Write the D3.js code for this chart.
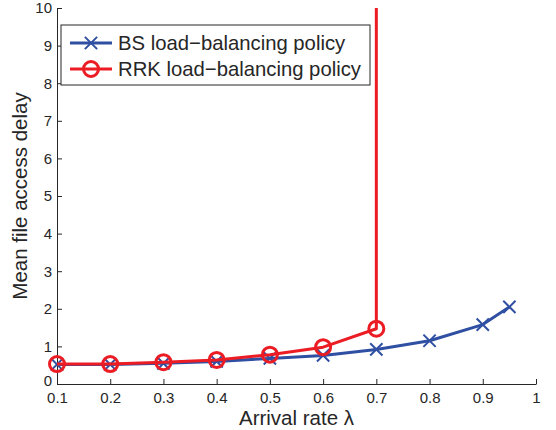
<!DOCTYPE html>
<html>
<head>
<meta charset="utf-8">
<script src="https://cdn.jsdelivr.net/npm/d3@7"></script>
<style>
  body { margin: 0; background: #fff; }
  svg { display: block; font-family: "Liberation Sans", Arial, sans-serif; }
</style>
</head>
<body>
<div id="chart"></div>
<script>
// arrival rates and mean delays
const bsRates = [0.1, 0.2, 0.3, 0.4, 0.5, 0.6, 0.7, 0.8, 0.9, 0.95];
const bsDelay = [0.52, 0.52, 0.55, 0.60, 0.68, 0.76, 0.92, 1.15, 1.58, 2.05];
const rrkRates = [0.1, 0.2, 0.3, 0.4, 0.5, 0.6, 0.7, 0.7];
const rrkDelay = [0.53, 0.53, 0.58, 0.64, 0.78, 0.98, 1.47, 40]; // last point blows up off the chart
const xTicks = [0.1, 0.2, 0.3, 0.4, 0.5, 0.6, 0.7, 0.8, 0.9, 1];
const yTicks = [0, 1, 2, 3, 4, 5, 6, 7, 8, 9, 10];
const seriesNames = ['BS load\u2212balancing policy', 'RRK load\u2212balancing policy'];

const W = 556, H = 430;
const margin = { top: 8, right: 20, bottom: 46, left: 57 };
const width = W - margin.left - margin.right;
const height = H - margin.top - margin.bottom;
const blue = '#2f4fa2';
const red = '#ec1c24';
const ink = '#262626';

const svg = d3.select('#chart').append('svg')
  .attr('width', W)
  .attr('height', H);

const g = svg.append('g')
  .attr('transform', 'translate(' + margin.left + ',' + margin.top + ')');

const x = d3.scaleLinear().domain([0.1, 1]).range([0, width]);
const y = d3.scaleLinear().domain([0, 10]).range([height, 0]);

// clip so the exploding red line stops at the top edge
g.append('clipPath').attr('id', 'plot')
  .append('rect').attr('x', -20).attr('y', 0).attr('width', width + 40).attr('height', height + 20);

// axes, MATLAB style ticks pointing in
const xAxis = g.append('g')
  .attr('transform', 'translate(0,' + height + ')')
  .call(d3.axisBottom(x).tickValues(xTicks).tickSizeInner(-5).tickSizeOuter(0).tickPadding(8)
    .tickFormat(d => d === 1 ? '1' : d3.format('.1f')(d)));
const yAxis = g.append('g')
  .call(d3.axisLeft(y).tickValues(yTicks).tickSizeInner(-5).tickSizeOuter(0).tickPadding(5));

[xAxis, yAxis].forEach(a => {
  a.select('.domain').attr('stroke', ink).attr('stroke-width', 1);
  a.selectAll('.tick line').attr('stroke', ink);
  a.selectAll('.tick text').attr('fill', ink).style('font-size', '15px');
});
// nudge the 0 label up a bit so it clears the 0.1 below it
yAxis.selectAll('.tick text').filter(d => d === 0).attr('dy', '0.12em');

// lines
const bsData = bsRates.map((r, i) => [r, bsDelay[i]]);
const rrkData = rrkRates.map((r, i) => [r, rrkDelay[i]]);
const line = d3.line().x(d => x(d[0])).y(d => y(d[1]));

const plot = g.append('g').attr('clip-path', 'url(#plot)');

plot.append('path')
  .datum(bsData)
  .attr('fill', 'none')
  .attr('stroke', blue)
  .attr('stroke-width', 3)
  .attr('stroke-linejoin', 'round')
  .attr('d', line);

const cross = d3.symbol().type(d3.symbolTimes).size(100);
plot.selectAll('.bs-mark')
  .data(bsData)
  .join('path')
  .attr('class', 'bs-mark')
  .attr('transform', d => 'translate(' + x(d[0]) + ',' + y(d[1]) + ')')
  .attr('d', cross)
  .attr('fill', blue)
  .attr('stroke', blue)
  .attr('stroke-width', 2);

plot.append('path')
  .datum(rrkData)
  .attr('fill', 'none')
  .attr('stroke', red)
  .attr('stroke-width', 3)
  .attr('stroke-linejoin', 'round')
  .attr('d', line);

plot.selectAll('.rrk-mark')
  .data(rrkData.slice(0, 7))
  .join('circle')
  .attr('class', 'rrk-mark')
  .attr('cx', d => x(d[0]))
  .attr('cy', d => y(d[1]))
  .attr('r', 7.5)
  .attr('fill', 'none')
  .attr('stroke', red)
  .attr('stroke-width', 3);

// axis labels
svg.append('text')
  .attr('x', margin.left + width / 2)
  .attr('y', 425)
  .attr('text-anchor', 'middle')
  .attr('fill', ink)
  .style('font-size', '20.5px')
  .text('Arrival rate \u03bb');

svg.append('text')
  .attr('transform', 'translate(27,' + (margin.top + height / 2) + ') rotate(-90)')
  .attr('text-anchor', 'middle')
  .attr('fill', ink)
  .style('font-size', '20.5px')
  .text('Mean file access delay');

// legend
const legend = svg.append('g').attr('transform', 'translate(61,25)');
legend.append('rect')
  .attr('width', 309)
  .attr('height', 60)
  .attr('fill', '#fff')
  .attr('stroke', ink)
  .attr('stroke-width', 1);

const rows = legend.selectAll('.row')
  .data(seriesNames)
  .join('g')
  .attr('transform', (d, i) => 'translate(0,' + (18 + i * 26) + ')');

rows.append('line')
  .attr('x1', 9).attr('x2', 51)
  .attr('stroke', (d, i) => i === 0 ? blue : red)
  .attr('stroke-width', 3);

rows.filter((d, i) => i === 0).append('path')
  .attr('transform', 'translate(30,0)')
  .attr('d', cross)
  .attr('fill', blue)
  .attr('stroke', blue)
  .attr('stroke-width', 2);

rows.filter((d, i) => i === 1).append('circle')
  .attr('cx', 30).attr('r', 7.5)
  .attr('fill', 'none')
  .attr('stroke', red)
  .attr('stroke-width', 3);

rows.append('text')
  .attr('x', 57)
  .attr('dy', '0.36em')
  .attr('fill', ink)
  .style('font-size', '20.3px')
  .text(d => d);
</script>
</body>
</html>
